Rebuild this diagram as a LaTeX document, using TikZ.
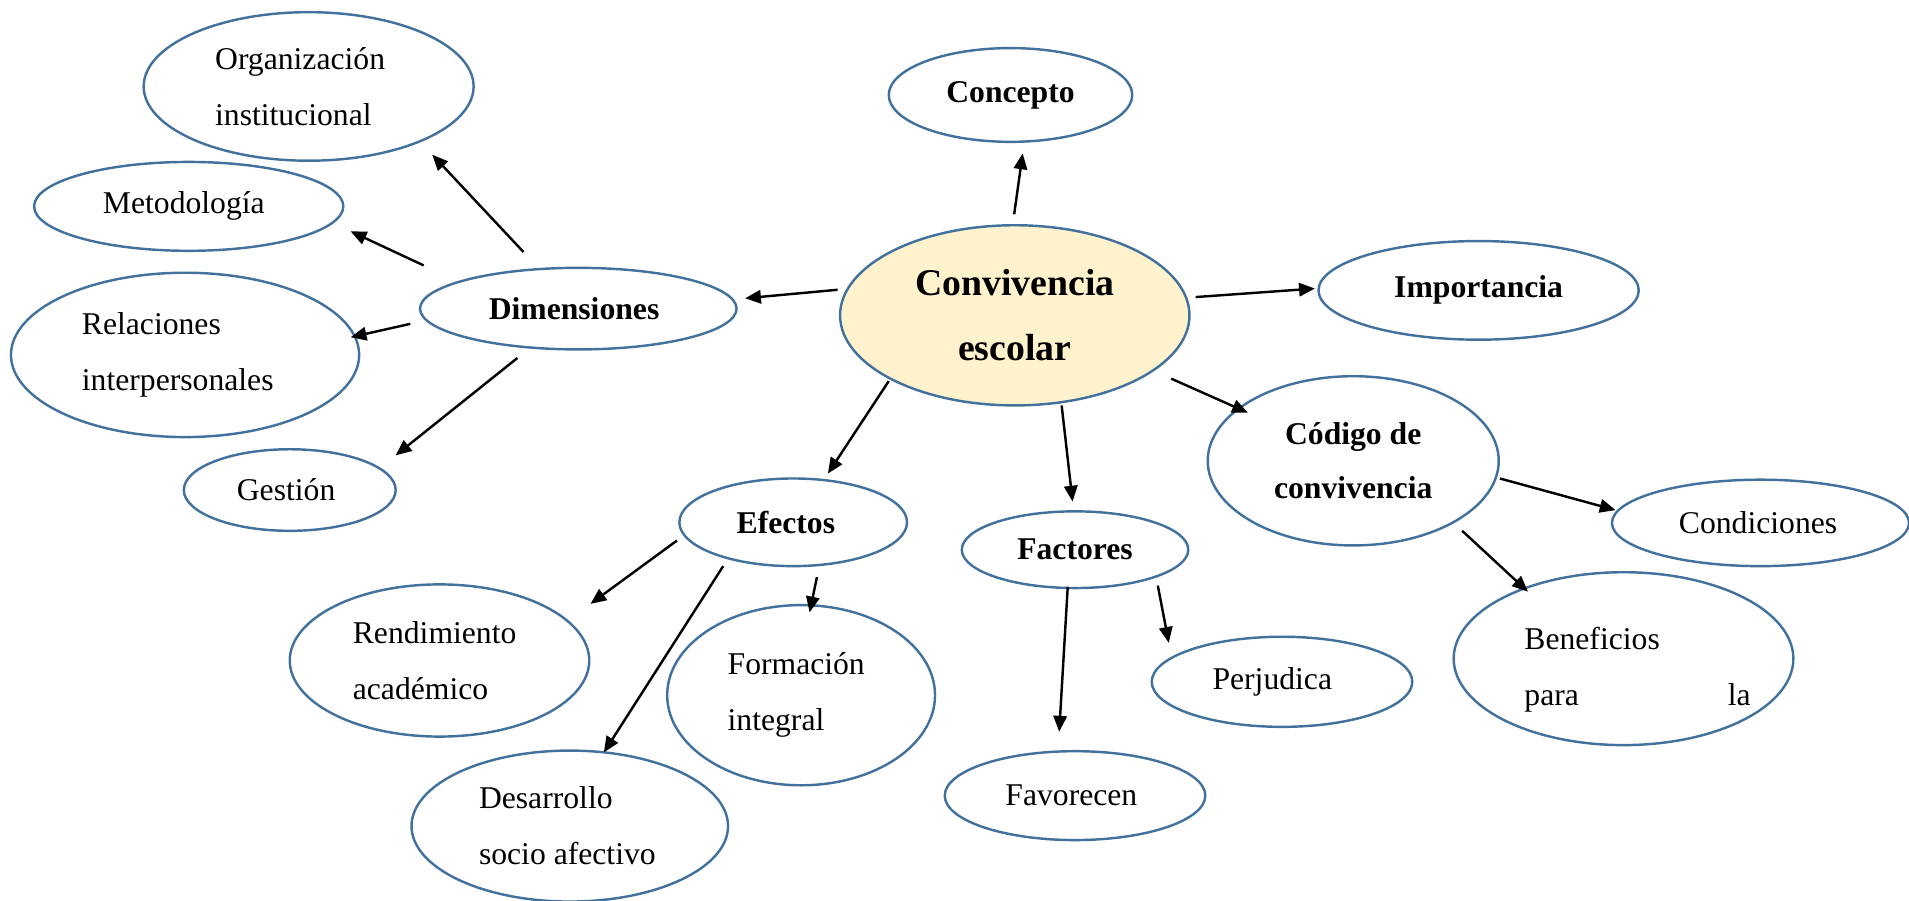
\documentclass[tikz,border=0pt]{standalone}
\usepackage{fontspec}
\setmainfont{Liberation Serif}
\usetikzlibrary{shapes.geometric,arrows.meta,calc}
\definecolor{ebl}{RGB}{65,113,156}
\definecolor{cfill}{RGB}{255,242,204}
\newcommand{\sh}[1]{\hspace*{#1}}
\begin{document}
\begin{tikzpicture}[x=0.5pt,y=-0.5pt,
  el/.style={ellipse,draw=ebl,line width=1pt,inner sep=0pt,align=left,
    font=\fontsize{13}{23}\selectfont},
  elb/.style={el,font=\fontsize{13}{22}\selectfont\bfseries,align=center},
  arr/.style={-{Triangle[length=6.5pt,width=5.5pt]},line width=1pt}]
\useasboundingbox (0,0) rectangle (1568,740);
% nodes
\node[el,minimum width=135.5pt,minimum height=61pt] (org) at (253.5,71) {\sh{-7pt}Organización\\\sh{-7pt}institucional};
\node[elb,minimum width=100pt,minimum height=38.5pt] (con) at (830,78) {Concepto};
\node[el,minimum width=127pt,minimum height=36.5pt] (met) at (155,169.5) {\sh{-4pt}Metodología};
\node[elb,minimum width=130pt,minimum height=33.5pt] (dim) at (475,253.5) {\sh{-3.5pt}Dimensiones};
\node[elb,fill=cfill,minimum width=143.5pt,minimum height=74pt,
  font=\fontsize{15.5}{26.5}\selectfont\bfseries] (conv) at (833.5,259) {Convivencia\\escolar};
\node[elb,minimum width=131.5pt,minimum height=40.5pt] (imp) at (1214.5,238.5) {Importancia};
\node[el,minimum width=143pt,minimum height=67.5pt] (rel) at (152,291.5) {\sh{-6pt}Relaciones\\\sh{-6pt}interpersonales};
\node[elb,minimum width=119.5pt,minimum height=69.5pt] (cod) at (1111.5,378.5) {Código de\\convivencia};
\node[el,minimum width=87pt,minimum height=33.5pt] (ges) at (238,402.5) {\sh{-3pt}Gestión};
\node[elb,minimum width=93.5pt,minimum height=36pt] (efe) at (651.5,429) {\sh{-6pt}Efectos};
\node[elb,minimum width=93pt,minimum height=31.5pt] (fac) at (883,451.5) {Factores};
\node[el,minimum width=122pt,minimum height=35.5pt] (cond) at (1446,429.5) {\sh{-2pt}Condiciones};
\node[el,minimum width=123pt,minimum height=62.5pt] (ren) at (361,542.5) {\sh{-4pt}Rendimiento\\\sh{-4pt}académico};
\node[el,minimum width=110pt,minimum height=74pt] (for) at (658,571) {\sh{-4pt}Formación\\\sh{-4pt}integral};
\node[el,minimum width=107pt,minimum height=37pt] (per) at (1053,560) {\sh{-8pt}Perjudica};
\node[el,minimum width=139.5pt,minimum height=71pt] (ben) at (1333.5,541) {\rule{0pt}{18pt}\sh{5.75pt}Beneficios\\\sh{5.75pt}\makebox[83.5pt][l]{para}la\sh{-5.75pt}};
\node[el,minimum width=107pt,minimum height=36.5pt] (fav) at (883,653.5) {\sh{-3pt}Favorecen};
\node[el,minimum width=130pt,minimum height=62pt] (des) at (468,678.5) {\sh{-2pt}Desarrollo\\\sh{-2pt}socio afectivo};
% connectors
\draw[arr] ($(dim)+(-45,-46.5)$) -- ($(org)+(101.5,56)$);
\draw[arr] ($(dim)+(-127,-35.5)$) -- ($(met)+(133,20.5)$);
\draw[arr] ($(dim)+(-138,12.5)$) -- ($(rel)+(136,-14.5)$);
\draw[arr] ($(dim)+(-50,40.5)$) -- ($(ges)+(87,-28.5)$);
\draw[arr] ($(conv)+(-145.5,-21)$) -- ($(dim)+(137,-8.5)$);
\draw[arr] ($(conv)+(-0.5,-83)$) -- ($(con)+(10,48)$);
\draw[arr] ($(conv)+(148.5,-15)$) -- ($(imp)+(-134.5,-1.5)$);
\draw[arr] ($(conv)+(128.5,52)$) -- ($(cod)+(-86.5,-39.5)$);
\draw[arr] ($(conv)+(-103.5,54)$) -- ($(efe)+(28.5,-40)$);
\draw[arr] ($(conv)+(38.5,74)$) -- ($(fac)+(-2,-39.5)$);
\draw[arr] ($(cod)+(120.5,14.5)$) -- ($(cond)+(-119,-10.5)$);
\draw[arr] ($(cod)+(89.5,57.5)$) -- ($(ben)+(-78.5,-55)$);
\draw[arr] ($(efe)+(-95.5,15)$) -- ($(ren)+(124,-46.5)$);
\draw[arr] ($(efe)+(-57.5,36)$) -- ($(des)+(28,-60.5)$);
\draw[arr] ($(efe)+(19.5,45)$) -- ($(for)+(7,-68)$);
\draw[arr] ($(fac)+(-6,30.5)$) -- ($(fav)+(-13,-52.5)$);
\draw[arr] ($(fac)+(68,29.5)$) -- ($(per)+(-93,-32)$);
\end{tikzpicture}
\end{document}
